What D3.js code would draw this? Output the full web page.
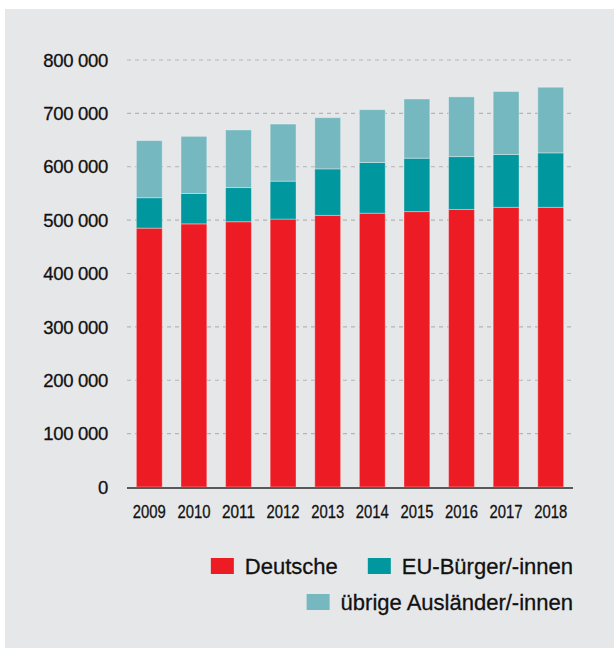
<!DOCTYPE html>
<html>
<head>
<meta charset="utf-8">
<script src="https://cdn.jsdelivr.net/npm/d3@7"></script>
<style>
  html, body { margin: 0; padding: 0; background: #fff; }
  svg { display: block; }
</style>
</head>
<body>
<div id="chart"></div>
<script>
// years and the three stacked groups (persons)
var years = ["2009", "2010", "2011", "2012", "2013", "2014", "2015", "2016", "2017", "2018"];
var deutsche = [485000, 493000, 497000, 502000, 509000, 513000, 516000, 520000, 524000, 524000];
var euBuerger = [57000, 57000, 64000, 71000, 87000, 95000, 100000, 99000, 99000, 102000];
var uebrige = [107000, 107000, 108000, 107000, 96000, 99000, 111000, 112000, 118000, 123000];
var seriesNames = ["Deutsche", "EU-Bürger/-innen", "übrige Ausländer/-innen"];
var yTicks = [0, 100000, 200000, 300000, 400000, 500000, 600000, 700000, 800000];

var colors = ["#ed1c24", "#00979e", "#75b8bf"];
var W = 614, H = 648;
var ink = "#111";

var svg = d3.select("#chart").append("svg")
    .attr("width", W)
    .attr("height", H);

svg.append("rect")
    .attr("x", 5).attr("y", 9)
    .attr("width", W - 5).attr("height", H - 9)
    .attr("fill", "#e6e7e9");

var table = years.map(function(y, i) {
  return { year: y, a: deutsche[i], b: euBuerger[i], c: uebrige[i] };
});
var stack = d3.stack().keys(["a", "b", "c"]);
var layers = stack(table);

var x = d3.scaleBand()
    .domain(years)
    .range([127, 573])
    .paddingInner(0.42)
    .paddingOuter(0.21);

var y = d3.scaleLinear()
    .domain([0, 800000])
    .range([487, 60]);

var fmt = function(v) { return d3.format(",")(v).replace(/,/g, " "); };

// gridlines
svg.append("g")
  .selectAll("line")
  .data(yTicks.filter(function(d) { return d > 0; }))
  .enter().append("line")
    .attr("x1", 127).attr("x2", 572)
    .attr("y1", function(d) { return y(d); })
    .attr("y2", function(d) { return y(d); })
    .attr("stroke", "#b4b5b7")
    .attr("stroke-width", 1.2)
    .attr("stroke-dasharray", "4,4");

// y labels
svg.append("g")
  .selectAll("text")
  .data(yTicks)
  .enter().append("text")
    .attr("x", 108)
    .attr("y", function(d) { return y(d); })
    .attr("dy", "0.36em")
    .attr("text-anchor", "end")
    .attr("font-family", "Liberation Sans, Arial, sans-serif")
    .attr("font-size", 18.5)
    .attr("letter-spacing", -0.3)
    .attr("fill", ink)
    .attr("stroke", ink)
    .attr("stroke-width", 0.3)
    .text(fmt);

// bars
svg.append("g")
  .selectAll("g")
  .data(layers)
  .enter().append("g")
    .attr("fill", function(d, i) { return colors[i]; })
  .selectAll("rect")
  .data(function(d) { return d; })
  .enter().append("rect")
    .attr("x", function(d) { return x(d.data.year); })
    .attr("y", function(d) { return y(d[1]); })
    .attr("width", x.bandwidth())
    .attr("height", function(d) { return y(d[0]) - y(d[1]); })
    .attr("stroke", "#ffffff")
    .attr("stroke-opacity", 0.35)
    .attr("stroke-width", 1);

// baseline
svg.append("line")
    .attr("x1", 127).attr("x2", 573)
    .attr("y1", y(0) + 1).attr("y2", y(0) + 1)
    .attr("stroke", "#2a2a2a")
    .attr("stroke-width", 1.5);

// x labels (condensed)
svg.append("g")
  .selectAll("text")
  .data(years)
  .enter().append("text")
    .attr("x", function(d) { return x(d) + x.bandwidth() / 2; })
    .attr("y", 518)
    .attr("text-anchor", "middle")
    .attr("font-family", "Liberation Sans, Arial, sans-serif")
    .attr("font-size", 18)
    .attr("textLength", 33)
    .attr("lengthAdjust", "spacingAndGlyphs")
    .attr("fill", ink)
    .attr("stroke", ink)
    .attr("stroke-width", 0.3)
    .text(function(d) { return d; });

// legend, right aligned
var legendRows = [[0, 1], [2]];
var rowY = [566, 602];
legendRows.forEach(function(row, r) {
  var right = 573;
  for (var k = row.length - 1; k >= 0; k--) {
    var idx = row[k];
    var t = svg.append("text")
        .attr("x", right)
        .attr("y", rowY[r])
        .attr("dy", "0.36em")
        .attr("text-anchor", "end")
        .attr("font-family", "Liberation Sans, Arial, sans-serif")
        .attr("font-size", 22)
        .attr("fill", ink)
        .attr("stroke", ink)
        .attr("stroke-width", 0.3)
        .text(seriesNames[idx]);
    var tw = t.node().getComputedTextLength();
    var sx = right - tw - 11 - 23;
    svg.append("rect")
        .attr("x", sx).attr("y", rowY[r] - 8)
        .attr("width", 23).attr("height", 16)
        .attr("fill", colors[idx]);
    right = sx - 30;
  }
});
</script>
</body>
</html>
